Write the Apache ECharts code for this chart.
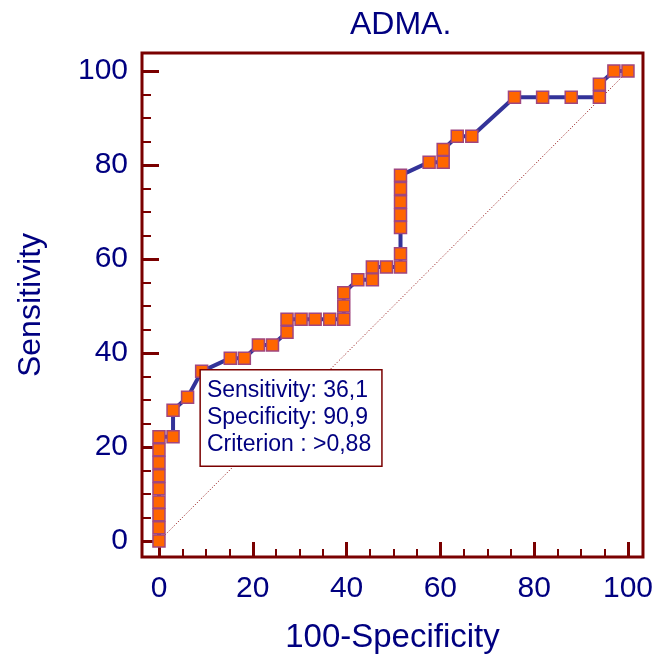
<!DOCTYPE html>
<html>
<head>
<meta charset="utf-8">
<script src="https://cdn.jsdelivr.net/npm/echarts@6/dist/echarts.min.js"></script>
<style>html,body{margin:0;padding:0;background:#fff;}#c{width:656px;height:660px;}</style>
</head>
<body>
<div id="c"></div>
<script>
// 100-Specificity (x) and Sensitivity (y) of the ROC curve points
var fpr = [0,0,0,0,0,0,0,0,0,3.0,3.0,6.1,9.1,15.2,18.2,21.2,24.2,27.3,27.3,30.3,33.3,36.4,39.4,39.4,39.4,42.4,45.5,45.5,48.5,51.5,51.5,51.5,51.5,51.5,51.5,51.5,57.6,60.6,60.6,63.6,66.7,75.8,81.8,87.9,93.9,93.9,97.0,100];
var tpr = [0,2.8,5.6,8.3,11.1,13.9,16.7,19.4,22.2,22.2,27.8,30.6,36.1,38.9,38.9,41.7,41.7,44.4,47.2,47.2,47.2,47.2,47.2,50.0,52.8,55.6,55.6,58.3,58.3,58.3,61.1,66.7,69.4,72.2,75.0,77.8,80.6,80.6,83.3,86.1,86.1,94.4,94.4,94.4,94.4,97.2,100,100];
var diagX = [0,100];
var diagY = [0,100];
var majorTicks = [0,20,40,60,80,100];
var minorTicks = [5,10,15,25,30,35,45,50,55,65,70,75,85,90,95];
var criterionIndex = 12;
var criterionText = ['Sensitivity: 36,1','Specificity: 90,9','Criterion : >0,88'];
var titleText = 'ADMA.';
var xName = '100-Specificity';
var yName = 'Sensitivity';

var FONT = '"Liberation Sans", Arial, sans-serif';
var NAVY = '#000080';
var FRAME = '#7a0000';
var XMIN = -3.62, XMAX = 103.2, YMIN = -3.4, YMAX = 103.83;

var rocData = fpr.map(function(x, i){
  var item = {value:[x, tpr[i]]};
  if (i === criterionIndex) {
    item.label = {
      show: true,
      position: [6, 6],
      align: 'left',
      verticalAlign: 'top',
      formatter: criterionText.join('\n'),
      color: NAVY,
      fontFamily: FONT,
      fontSize: 23,
      lineHeight: 27,
      backgroundColor: '#ffffff',
      borderColor: FRAME,
      borderWidth: 1.5,
      padding: [7, 10, 7, 6]
    };
  }
  return item;
});

var chart = echarts.init(document.getElementById('c'), null, {renderer:'canvas'});
chart.setOption({
  animation: false,
  backgroundColor: '#ffffff',
  title: {
    text: titleText,
    left: 345,
    top: 4,
    textStyle: {color: NAVY, fontFamily: FONT, fontSize: 32, fontWeight: 'normal'}
  },
  grid: [
    {left: 142, right: 13, top: 53, bottom: 103, show: true, borderColor: FRAME, borderWidth: 3, backgroundColor: 'transparent'}
  ],
  xAxis: [
    {
      type: 'value', gridIndex: 0, min: XMIN, max: XMAX, position: 'bottom',
      axisLine: {show: false, onZero: false},
      axisTick: {show: true, inside: true, length: 15, customValues: majorTicks, lineStyle: {color: FRAME, width: 3}},
      splitLine: {show: false},
      axisLabel: {show: true, customValues: majorTicks, color: NAVY, fontFamily: FONT, fontSize: 30, margin: 17},
      name: xName, nameLocation: 'middle', nameGap: 64,
      nameTextStyle: {color: NAVY, fontFamily: FONT, fontSize: 33}
    },
    {
      type: 'value', gridIndex: 0, min: XMIN, max: XMAX, position: 'bottom',
      axisLine: {show: false, onZero: false},
      axisTick: {show: true, inside: true, length: 8, customValues: minorTicks, lineStyle: {color: FRAME, width: 2}},
      splitLine: {show: false},
      axisLabel: {show: false}
    }
  ],
  yAxis: [
    {
      type: 'value', gridIndex: 0, min: YMIN, max: YMAX, position: 'left',
      axisLine: {show: false, onZero: false},
      axisTick: {show: true, inside: true, length: 17, customValues: majorTicks, lineStyle: {color: FRAME, width: 3}},
      splitLine: {show: false},
      axisLabel: {show: true, customValues: majorTicks, color: NAVY, fontFamily: FONT, fontSize: 30, margin: 14},
      name: yName, nameLocation: 'middle', nameGap: 95, nameRotate: 90,
      nameTextStyle: {color: NAVY, fontFamily: FONT, fontSize: 32}
    },
    {
      type: 'value', gridIndex: 0, min: YMIN, max: YMAX, position: 'left',
      axisLine: {show: false, onZero: false},
      axisTick: {show: true, inside: true, length: 9, customValues: minorTicks, lineStyle: {color: FRAME, width: 2}},
      splitLine: {show: false},
      axisLabel: {show: false}
    }
  ],
  series: [
    {
      type: 'line', xAxisIndex: 0, yAxisIndex: 0,
      data: diagX.map(function(x, i){ return [x, diagY[i]]; }),
      symbol: 'none', silent: true, z: 1,
      lineStyle: {color: '#8b0000', width: 1, type: [1, 2]}
    },
    {
      type: 'line', xAxisIndex: 0, yAxisIndex: 0,
      data: rocData,
      clip: false,
      z: 3,
      symbol: 'rect', symbolSize: 12, showAllSymbol: true,
      lineStyle: {color: '#333399', width: 4},
      itemStyle: {color: '#ff6600', borderColor: '#a0467f', borderWidth: 1.5},
      label: {show: false}
    }
  ]
});
</script>
</body>
</html>
